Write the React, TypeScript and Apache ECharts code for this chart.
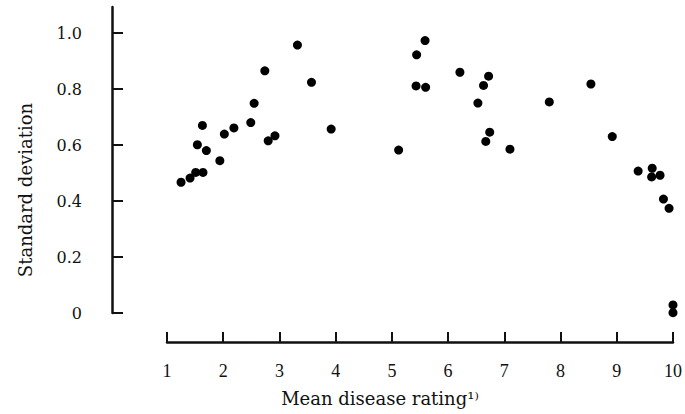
import React, { useEffect, useRef } from "react";
import * as echarts from "echarts";

const meanRating: number[] = [
  1.25, 1.41, 1.51, 1.64, 1.54, 1.63, 1.70, 1.94, 2.02, 2.19, 2.49, 2.55, 2.74, 2.80, 2.92, 3.32, 3.57, 3.92,
  5.12, 5.59, 5.44, 5.43, 5.60, 6.21, 6.72, 6.63, 6.53, 6.74, 6.67, 7.10, 7.80,
  8.54, 8.92, 9.38, 9.63, 9.62, 9.77, 9.83, 9.93, 10.0, 10.0,
];
const stdDev: number[] = [
  0.467, 0.482, 0.502, 0.502, 0.601, 0.670, 0.580, 0.544, 0.639, 0.661, 0.680, 0.749, 0.865, 0.615, 0.633, 0.957, 0.824, 0.657,
  0.582, 0.973, 0.922, 0.811, 0.806, 0.860, 0.846, 0.813, 0.750, 0.646, 0.613, 0.585, 0.754,
  0.818, 0.630, 0.507, 0.517, 0.486, 0.492, 0.407, 0.374, 0.029, 0.001,
];
const yTicks: number[] = [0, 0.2, 0.4, 0.6, 0.8, 1.0];
const xTicks: number[] = [1, 2, 3, 4, 5, 6, 7, 8, 9, 10];

const SERIF = "'DejaVu Serif', serif";
const TIMES = "'Liberation Serif', serif";

export default function App() {
  const ref = useRef<HTMLDivElement>(null);
  useEffect(() => {
    if (!ref.current) return;
    const chart = echarts.init(ref.current, null, { renderer: "svg" });
    const points = meanRating.map((x, i) => [x, stdDev[i]]);
    chart.setOption({
      animation: false,
      backgroundColor: "#ffffff",
      grid: { left: 167, right: 11, top: 7, bottom: 101, containLabel: false },
      xAxis: {
        type: "value",
        min: 1,
        max: 10,
        interval: 1,
        position: "bottom",
        offset: 29,
        name: "Mean disease rating¹⁾",
        nameLocation: "middle",
        nameGap: 47,
        nameTextStyle: {
          fontFamily: SERIF,
          fontSize: 18,
          color: "#111",
          padding: [0, 80, 0, 0],
        },
        axisLine: { show: true, onZero: false, lineStyle: { color: "#111", width: 2.5 } },
        axisTick: { show: true, inside: true, length: 10, lineStyle: { color: "#111", width: 2 } },
        axisLabel: {
          show: true,
          margin: 20,
          fontFamily: TIMES,
          fontSize: 18,
          color: "#111",
          formatter: (v: number) => String(v),
        },
        splitLine: { show: false },
      },
      yAxis: {
        type: "value",
        min: 0,
        max: 1.093,
        position: "left",
        offset: 55,
        name: "Standard deviation",
        nameLocation: "middle",
        nameGap: 78,
        nameTextStyle: {
          fontFamily: SERIF,
          fontSize: 18,
          color: "#111",
          padding: [0, 60, 0, 0],
        },
        axisLine: { show: true, onZero: false, lineStyle: { color: "#111", width: 2.5 } },
        axisTick: { show: true, inside: true, length: 11, lineStyle: { color: "#111", width: 2 }, customValues: yTicks },
        axisLabel: {
          show: true,
          margin: 30,
          fontFamily: SERIF,
          fontSize: 16,
          color: "#111",
          customValues: yTicks,
          formatter: (v: number) => (v === 0 ? "0" : v.toFixed(1)),
        },
        splitLine: { show: false },
      },
      series: [
        {
          type: "scatter",
          data: points,
          symbol: "circle",
          symbolSize: 9,
          clip: false,
          itemStyle: { color: "#000", opacity: 1 },
        },
      ],
    });
    return () => chart.dispose();
  }, []);
  return (
    <div
      ref={ref}
      style={{ position: "fixed", left: 0, top: 0, width: 685, height: 414, background: "#fff" }}
    />
  );
}
